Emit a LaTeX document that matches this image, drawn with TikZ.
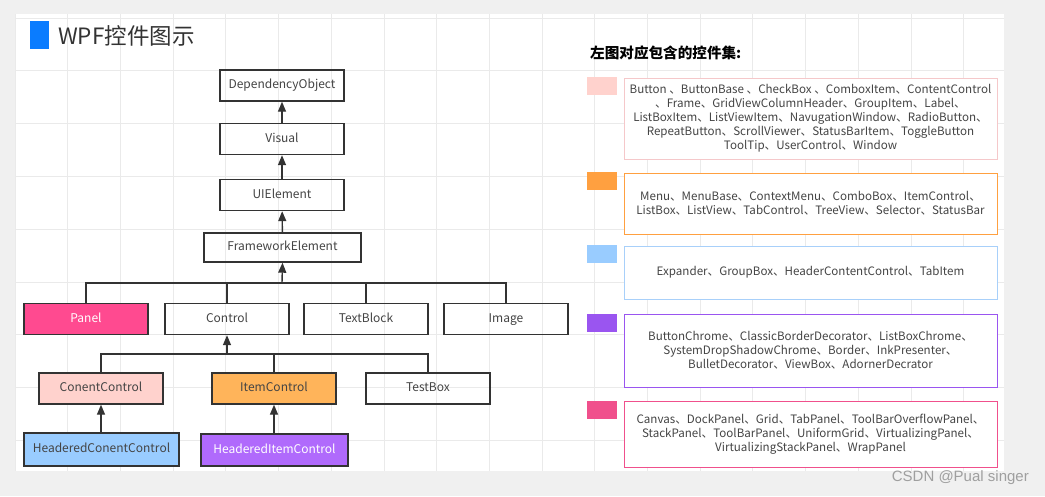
\documentclass[tikz,border=0pt]{standalone}
\usepackage{fontspec}
\setmainfont{Noto Sans CJK SC}
\newfontfamily\markfont{Liberation Sans}
\usetikzlibrary{arrows.meta}
\definecolor{pagegray}{HTML}{F0F0F0}
\definecolor{gridgray}{HTML}{EAEAEA}
\definecolor{boxline}{HTML}{333333}
\definecolor{textgray}{HTML}{444444}
\definecolor{titleblue}{HTML}{0A7CFF}
\definecolor{panelpink}{HTML}{FF4A90}
\definecolor{ccpink}{HTML}{FFD2CD}
\definecolor{icorange}{HTML}{FFB45A}
\definecolor{hccblue}{HTML}{99CCFF}
\definecolor{hicpurple}{HTML}{B06AFC}
\definecolor{lineorange}{HTML}{FFA040}
\definecolor{lineblue}{HTML}{A8D0FA}
\definecolor{linepurple}{HTML}{9A55F0}
\definecolor{linepink}{HTML}{F0508C}
\definecolor{linesoft}{HTML}{F5C8CA}
\begin{document}
\begin{tikzpicture}[x=1pt,y=-1pt,
  cls/.style={draw=boxline,line width=1.4pt,minimum width=124pt,minimum height=31pt,
    inner sep=0pt,text height=9pt,text depth=3pt,font=\fontsize{12}{14}\selectfont,text=textgray},
  up/.style={-{Triangle[length=10pt,width=8pt]},line width=1.4pt,draw=boxline},
  tie/.style={line width=1.4pt,draw=boxline},
  swatch/.style={minimum width=30pt,minimum height=18pt,inner sep=0pt},
  setbox/.style={draw,line width=1pt,fill=white,minimum width=373pt,inner sep=0pt,
    align=center,font=\fontsize{11.6}{14}\selectfont,text=textgray}]
\useasboundingbox (0,0) rectangle (1045,496);
% canvas and grid
\fill[pagegray] (0,0) rectangle (1045,496);
\fill[white] (15,14) rectangle (1004,471);
\scope
\clip (15,14) rectangle (1004,471);
\foreach \gx in {15,67.7,...,1004} \draw[gridgray,line width=0.8pt] (\gx,14) -- (\gx,471);
\foreach \gy in {18,70.8,...,471} \draw[gridgray,line width=0.8pt] (15,\gy) -- (1004,\gy);
\endscope
% title
\fill[titleblue] (30,21) rectangle (49,49);
\node[anchor=west,inner sep=0pt,text=boxline,font=\fontsize{22.5}{24}\selectfont] (title) at (58,36) {WPF控件图示};
% class tree
\node[cls] (dep) at (282,85.5) {DependencyObject};
\node[cls] (vis) at (282,139) {Visual};
\node[cls] (uie) at (282,195) {UIElement};
\node[cls,minimum width=157pt,minimum height=29pt] (fwe) at (282.5,247.5) {FrameworkElement};
\node[cls,fill=panelpink,text=white] (panel) at (86,319) {Panel};
\node[cls] (ctrl) at (227,319) {Control};
\node[cls] (tblock) at (366,319) {TextBlock};
\node[cls] (image) at (506,319) {Image};
\node[cls,fill=ccpink] (cc) at (101,388.5) {ConentControl};
\node[cls,fill=icorange] (ic) at (274,388.5) {ItemControl};
\node[cls] (tbox) at (428,388.5) {TestBox};
\node[cls,fill=hccblue,minimum width=155pt,minimum height=33pt] (hcc) at (101.5,449.5) {HeaderedConentControl};
\node[cls,fill=hicpurple,text=white,minimum width=147pt,minimum height=32pt] (hic) at (274.5,450) {HeaderedItemControl};
\draw[up] (vis) -- (dep);
\draw[up] (uie) -- (vis);
\draw[up] (fwe) -- (uie);
\coordinate (busa) at (282,283);
\coordinate (busb) at (227,354);
\draw[tie] (panel.north) |- (busa) -| (image.north);
\draw[tie] (ctrl.north) -- (ctrl.north |- busa);
\draw[tie] (tblock.north) -- (tblock.north |- busa);
\draw[up] (busa) -- (fwe.south);
\draw[tie] (cc.north) |- (busb) -| (tbox.north);
\draw[tie] (ic.north) -- (ic.north |- busb);
\draw[up] (busb) -- (ctrl.south);
\draw[up] (hcc.north -| cc.south) -- (cc.south);
\draw[up] (hic.north -| ic.south) -- (ic.south);
% legend
\node[anchor=west,inner sep=0pt,text=black,font=\fontsize{14.6}{16}\selectfont\bfseries] (head) at (590,53) {左图对应包含的控件集:};
\node[swatch,fill=ccpink] (swa) at (602,86) {};
\node[swatch,fill=lineorange] (swb) at (602,181) {};
\node[swatch,fill=hccblue] (swc) at (602,254) {};
\node[swatch,fill=linepurple] (swd) at (602,322.5) {};
\node[swatch,fill=linepink] (swe) at (602,409.5) {};
\node[setbox,draw=linesoft,minimum height=81pt] (seta) at (810.5,118.5) {Button 、ButtonBase 、CheckBox 、ComboxItem、ContentControl\\ 、Frame、GridViewColumnHeader、GroupItem、Label、\\ ListBoxItem、ListViewItem、NavugationWindow、RadioButton、\\ RepeatButton、ScrollViewer、StatusBarItem、ToggleButton\\ ToolTip、UserControl、Window};
\node[setbox,draw=lineorange,minimum height=61pt] (setb) at (810.5,203.5) {Menu、MenuBase、ContextMenu、ComboBox、ItemControl、\\ ListBox、ListView、TabControl、TreeView、Selector、StatusBar};
\node[setbox,draw=lineblue,minimum height=53pt] (setc) at (810.5,272.5) {Expander、GroupBox、HeaderContentControl、TabItem};
\node[setbox,draw=linepurple,minimum height=73pt] (setd) at (810.5,350.5) {ButtonChrome、ClassicBorderDecorator、ListBoxChrome、\\ SystemDropShadowChrome、Border、InkPresenter、\\ BulletDecorator、ViewBox、AdornerDecrator};
\node[setbox,draw=linepink,minimum height=66pt] (sete) at (810.5,434) {Canvas、DockPanel、Grid、TabPanel、ToolBarOverflowPanel、\\ StackPanel、ToolBarPanel、UniformGrid、VirtualizingPanel、\\ VirtualizingStackPanel、WrapPanel};
% watermark
\node[anchor=east,inner sep=0pt,text=gray!75,font=\markfont\fontsize{15}{16}\selectfont] (mark) at (1029,478) {CSDN @Pual singer};
\end{tikzpicture}
\end{document}
